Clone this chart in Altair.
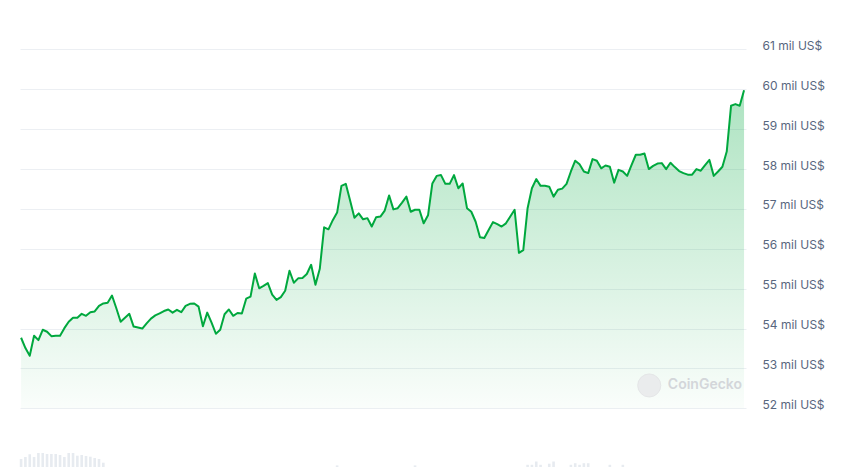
import altair as alt
import pandas as pd

# hourly BTC price (USD), 7 days
hours = [0, 1, 2, 3, 4, 5, 6, 7, 8, 9, 10, 11, 12, 13, 14, 15, 16, 17, 18, 19, 20, 21, 22, 23,
         25, 26, 28, 29, 30, 31, 32, 33, 34, 35, 36, 37, 38, 39, 40, 41, 42, 43, 44, 45, 46, 47,
         48, 49, 50, 51, 52, 53, 54, 55, 56, 57, 58, 59, 60, 61, 62, 63, 64, 65, 66, 67, 68, 69,
         70, 71, 72, 73, 74, 75, 76, 77, 78, 79, 80, 81, 82, 83, 84, 85, 86, 87, 88, 89, 90, 91,
         92, 93, 94, 95, 96, 97, 98, 99, 100, 101, 102, 103, 104, 105, 106, 107, 108, 109, 110,
         111, 112, 113, 114, 115, 116, 117, 118, 119, 120, 121, 122, 123, 124, 125, 126, 127, 128,
         129, 130, 131, 132, 133, 134, 135, 136, 137, 138, 139, 140, 141, 142, 143, 144, 145, 146,
         147, 148, 149, 150, 151, 152, 153, 154, 155, 156, 157, 158, 159, 160, 161, 162, 163, 164,
         165, 166, 167]
prices = [53770, 53510, 53320, 53820, 53710, 53970, 53920, 53810, 53820, 53820, 54010, 54170,
          54270, 54270, 54370, 54320, 54410, 54430, 54570, 54630, 54650, 54830, 54510, 54170,
          54370, 54050, 54000, 54130, 54250, 54330, 54380, 54440, 54480, 54400, 54470, 54410,
          54570, 54620, 54630, 54550, 54060, 54400, 54150, 53870, 53970, 54360, 54480, 54320,
          54390, 54380, 54750, 54800, 55380, 55010, 55070, 55140, 54850, 54720, 54790, 54950,
          55450, 55150, 55260, 55270, 55370, 55600, 55100, 55500, 56540, 56490, 56720, 56910,
          57580, 57630, 57210, 56780, 56890, 56740, 56770, 56560, 56790, 56810, 56960, 57340,
          56990, 57020, 57160, 57310, 56930, 56980, 56980, 56640, 56840, 57640, 57830, 57850,
          57630, 57630, 57850, 57520, 57640, 57020, 56930, 56680, 56290, 56270, 56470, 56670,
          56620, 56560, 56640, 56810, 56980, 55900, 55970, 57020, 57520, 57750, 57580, 57580,
          57560, 57310, 57480, 57510, 57630, 57940, 58210, 58120, 57940, 57900, 58250, 58210,
          58020, 58090, 58060, 57660, 57980, 57940, 57830, 58100, 58360, 58360, 58390, 58000,
          58080, 58140, 58150, 58000, 58160, 58050, 57950, 57900, 57860, 57860, 58000, 57960,
          58100, 58230, 57830, 57940, 58060, 58440, 59590, 59630, 59590, 59980]

# volume strip peeking at the bottom (bn USD)
vol_hours = [0, 1, 2, 3, 4, 5, 6, 7, 8, 9, 10, 11, 12, 13, 14, 15, 16, 17, 18, 19,
             73, 91, 117, 118, 119, 120, 122, 123, 127, 128, 129, 130, 131, 136, 139]
volumes = [1.6, 2.0, 2.54, 2.0, 2.8, 2.8, 2.6, 2.6, 2.6, 2.4, 2.0, 2.8, 2.8, 2.26, 2.4, 2.2,
           2.06, 1.8, 1.6, 0.86,
           0.32, 0.32, 0.44, 0.44, 1.1, 0.44, 0.66, 1.1, 0.44, 0.76, 0.44, 0.76, 0.76, 0.44, 0.44]

tick_values = [52000, 53000, 54000, 55000, 56000, 57000, 58000, 59000, 60000, 61000]
baseline_value = 52000

df = pd.DataFrame({"hour": hours, "price": prices})
vdf = pd.DataFrame({"hour": vol_hours, "volume": volumes})
wm = pd.DataFrame({"hour": [145.1], "price": [52573], "label": ["CoinGecko"], "hour_t": [149.4]})

GREEN = "#00a83e"


def xs():
    return alt.Scale(domain=[-0.25, 167.45], nice=False, zero=False, padding=0)


def ys():
    return alt.Scale(domain=[50528, 61489], nice=False, zero=False)


yaxis = alt.Axis(
    orient="right", values=tick_values,
    labelExpr="format(datum.value / 1000, 'd') + ' mil US$'",
    grid=True, gridColor="#eceff3", gridWidth=1, domain=False, ticks=False,
    labelPadding=16, labelBaseline="alphabetic", labelFont="Inter",
    labelFontSize=12, labelColor="#58667e", title=None,
)

gradient = alt.Gradient(
    gradient="linear",
    stops=[alt.GradientStop(color="rgba(0,168,62,0.32)", offset=0),
           alt.GradientStop(color="rgba(0,168,62,0.02)", offset=1)],
    x1=1, x2=1, y1=0, y2=1,
)

vol = alt.Chart(vdf).mark_bar(width=2.6, color="#e7ebf0").encode(
    x=alt.X("hour:Q", scale=xs(), axis=None),
    y=alt.Y("volume:Q", scale=alt.Scale(domain=[0, 87.4], nice=False), axis=None),
)

area = alt.Chart(df).mark_area(color=gradient, interpolate="linear").encode(
    x=alt.X("hour:Q", scale=xs(), axis=None),
    y=alt.Y("price:Q", scale=ys(), axis=yaxis),
    y2=alt.datum(baseline_value),
)

line = alt.Chart(df).mark_line(color=GREEN, strokeWidth=2, strokeJoin="round").encode(
    x=alt.X("hour:Q", scale=xs(), axis=None),
    y=alt.Y("price:Q", scale=ys(), axis=None),
)

logo = alt.Chart(wm).mark_circle(size=530, color="#e9eaec", opacity=0.85, stroke="#e2e3e5", strokeWidth=1).encode(
    x=alt.X("hour:Q", scale=xs(), axis=None),
    y=alt.Y("price:Q", scale=ys(), axis=None),
)

wm_text = alt.Chart(wm).mark_text(
    align="left", baseline="middle", font="Inter", fontSize=14, fontWeight=600, color="#d3d6da"
).encode(
    x=alt.X("hour_t:Q", scale=xs(), axis=None),
    y=alt.Y("price:Q", scale=ys(), axis=None),
    text="label:N",
)

chart = alt.layer(area, vol, line, logo, wm_text).resolve_scale(y="independent").properties(
    width=726, height=437,
    padding={"left": 12, "top": 22, "right": 90, "bottom": 0},
    autosize=alt.AutoSizeParams(type="none"),
).configure_view(stroke=None)

chart.save("out.html", embed_options={"renderer": "svg", "actions": False})
